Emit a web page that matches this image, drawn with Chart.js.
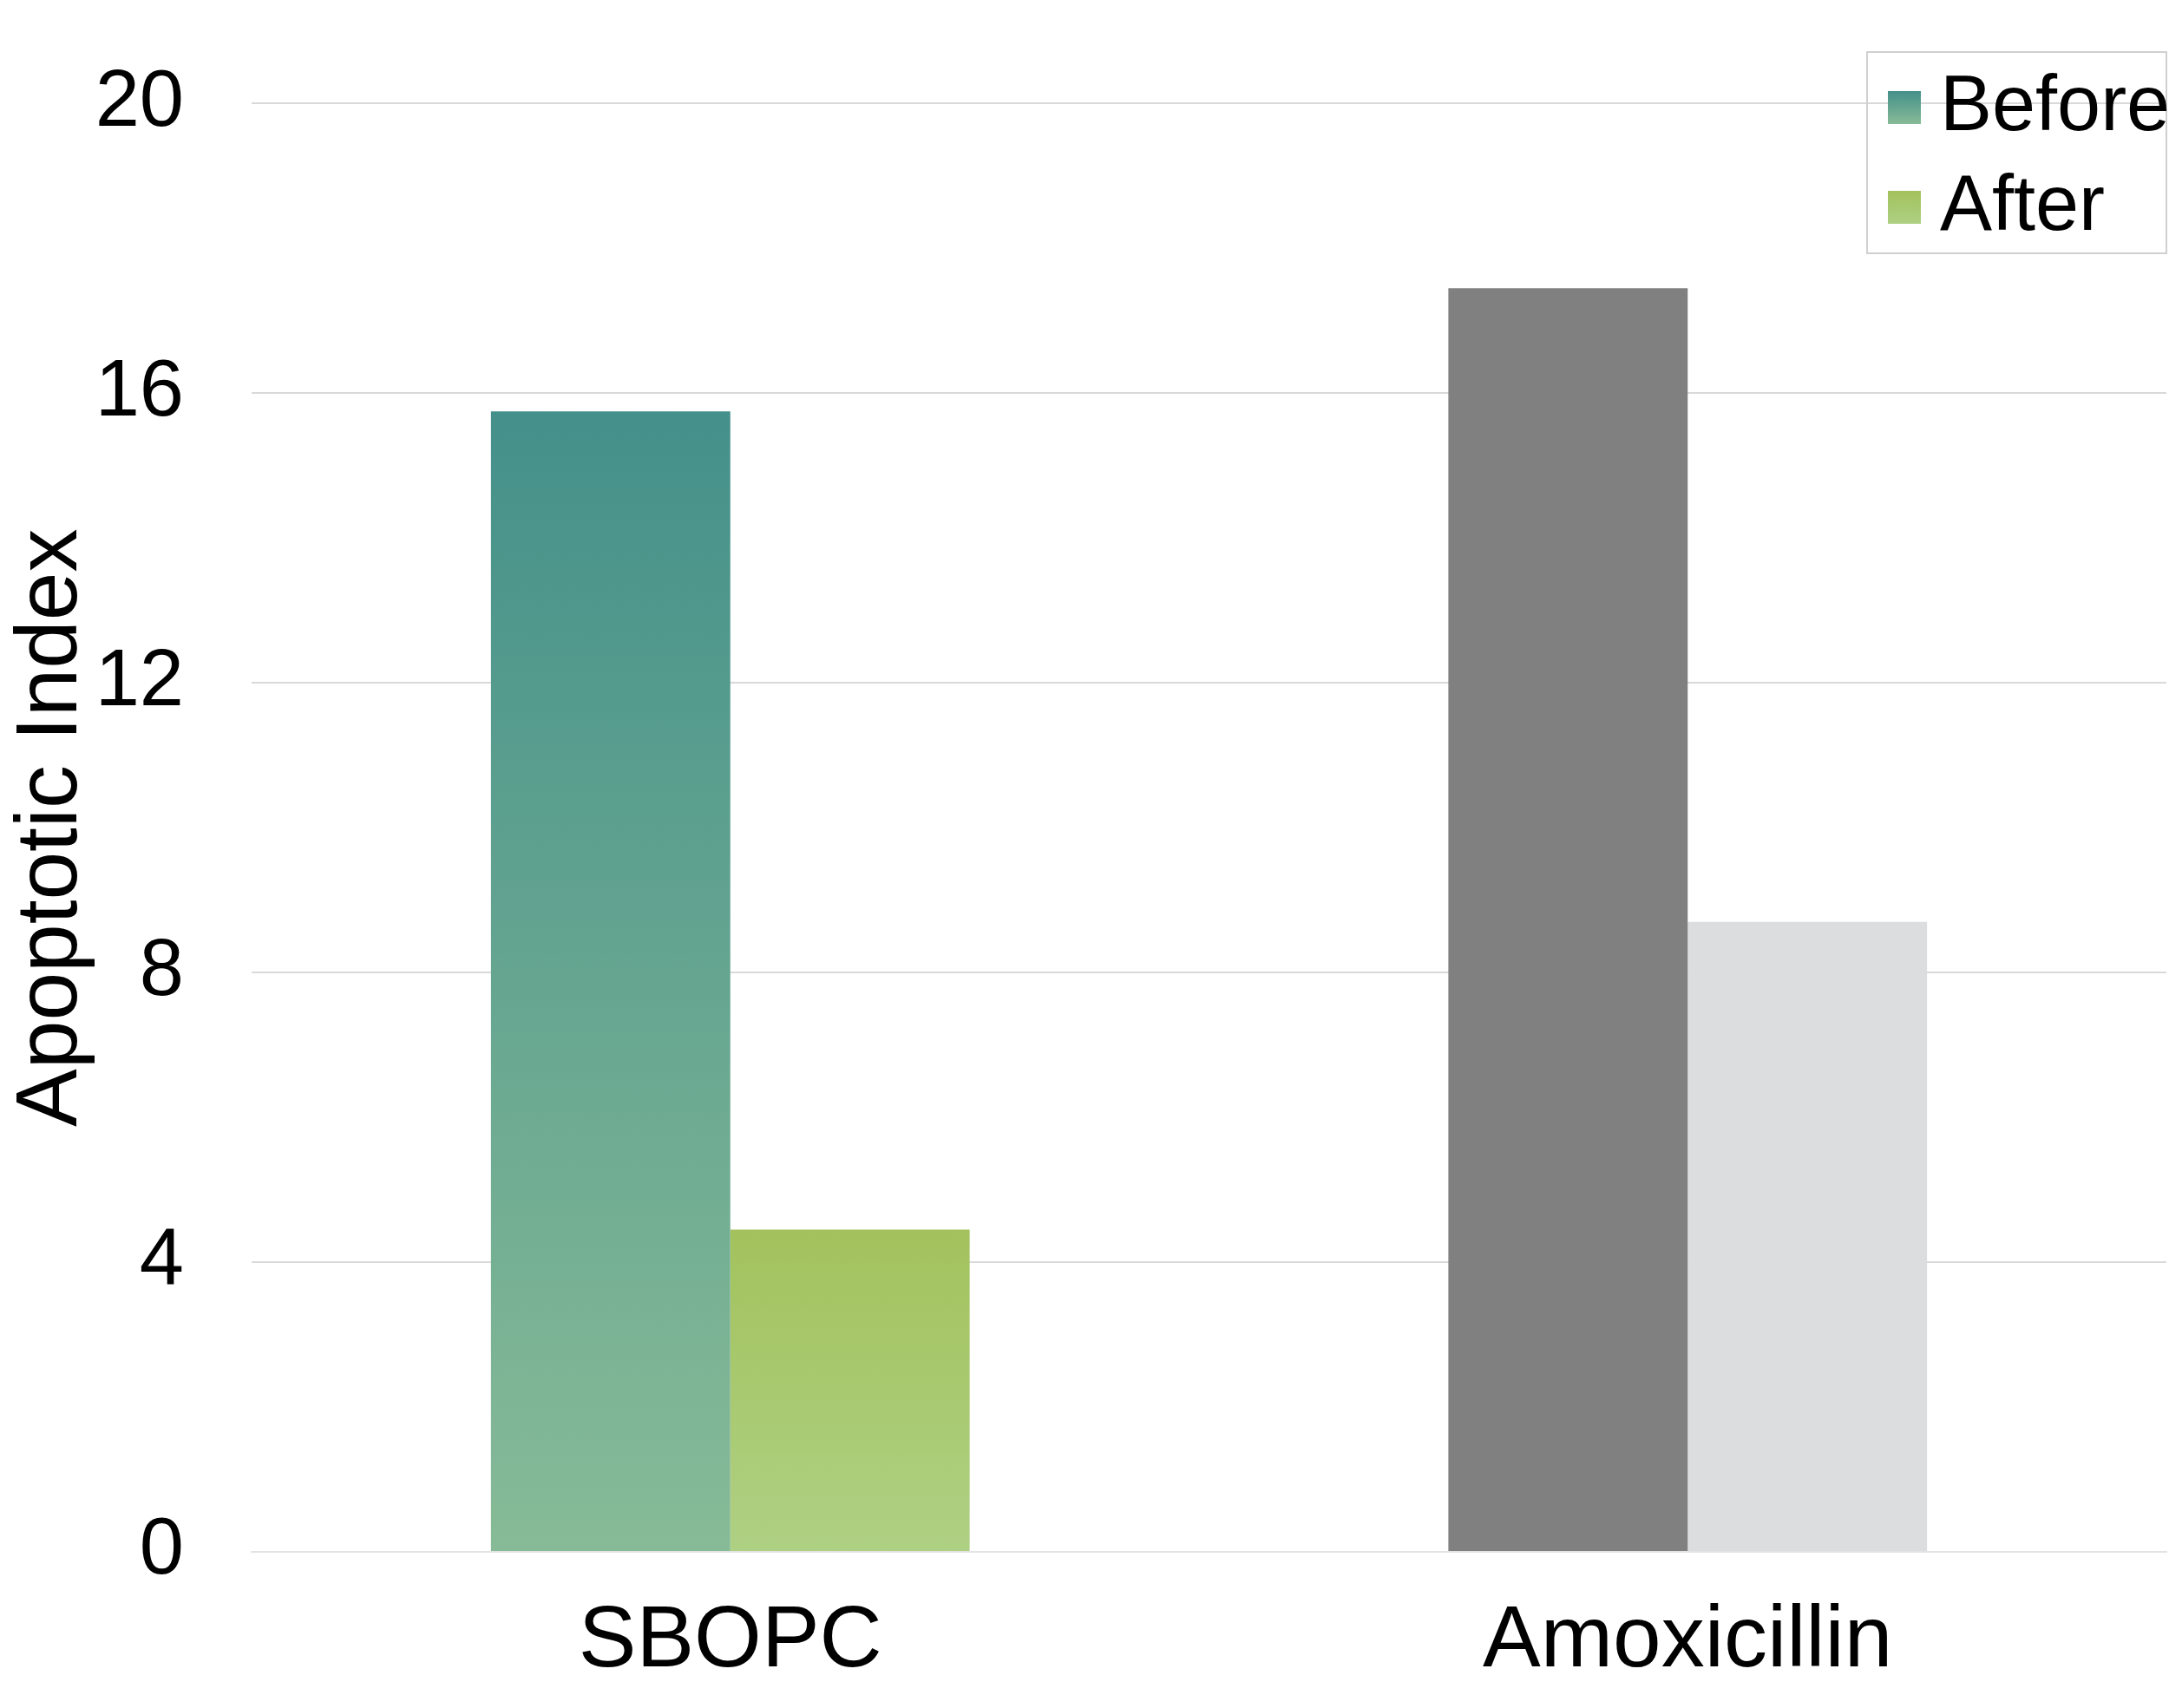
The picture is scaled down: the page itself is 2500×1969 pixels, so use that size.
<!DOCTYPE html>
<html>
<head>
<meta charset="utf-8">
<script src="https://cdn.jsdelivr.net/npm/chart.js@4"></script>
<style>body{margin:0;background:#fff}</style>
</head>
<body>
<canvas id="c" width="2500" height="1969"></canvas>
<script>
const categories = ['SBOPC', 'Amoxicillin'];
const beforeValues = [15.75, 17.45];
const afterValues = [4.45, 8.7];
const seriesNames = ['Before', 'After'];
const yTicks = [0, 4, 8, 12, 16, 20];

const FONT = '"Liberation Sans", Arial, sans-serif';

// gradient top->bottom for the SBOPC bars, flat colours for Amoxicillin
const fills = {
  Before: [['#44908a', '#87bb97'], ['#808080', '#808080']],
  After: [['#a3c25d', '#aed083'], ['#dcdddf', '#dcdddf']]
};
const barFill = (name) => (ctx) => {
  const chart = ctx.chart;
  if (!chart.chartArea) return fills[name][ctx.dataIndex][0];
  const y = chart.scales.y;
  const [top, bottom] = fills[name][ctx.dataIndex];
  const g = chart.ctx.createLinearGradient(0, y.getPixelForValue(ctx.raw), 0, y.getPixelForValue(0));
  g.addColorStop(0, top); g.addColorStop(1, bottom);
  return g;
};

const legendBox = {
  id: 'legendBox',
  afterDraw(chart) {
    const c = chart.ctx;
    c.save();
    c.strokeStyle = '#d0d0d0'; c.lineWidth = 2;
    c.strokeRect(2152, 60, 345, 232);
    const swatch = [['#44908a', '#87bb97'], ['#a3c25d', '#aed083']];
    const ys = [105, 220];
    seriesNames.forEach((n, i) => {
      const g = c.createLinearGradient(0, ys[i], 0, ys[i] + 38);
      g.addColorStop(0, swatch[i][0]); g.addColorStop(1, swatch[i][1]);
      c.fillStyle = g;
      c.fillRect(2176, ys[i], 38, 38);
      c.fillStyle = '#000';
      c.font = '90px ' + FONT;
      c.textBaseline = 'middle';
      c.fillText(n, 2236, ys[i] + 20);
    });
    c.restore();
  }
};

new Chart(document.getElementById('c'), {
  type: 'bar',
  data: {
    labels: categories,
    datasets: [
      { label: seriesNames[0], data: beforeValues, backgroundColor: barFill('Before') },
      { label: seriesNames[1], data: afterValues, backgroundColor: barFill('After') }
    ]
  },
  options: {
    responsive: false,
    devicePixelRatio: 1,
    animation: false,
    layout: { padding: { top: 0, right: 3, left: 0, bottom: 0 } },
    plugins: { legend: { display: false }, tooltip: { enabled: false } },
    datasets: { bar: { categoryPercentage: 0.5, barPercentage: 1 } },
    scales: {
      x: {
        grid: { display: false },
        border: { color: '#e3e3e3', width: 2 },
        ticks: { color: '#000', font: { family: FONT, size: 100 }, padding: 36 },
        afterFit(s) { s.height = 180; }
      },
      y: {
        min: 0, max: 20,
        afterBuildTicks(s) { s.ticks = yTicks.map(v => ({ value: v })); },
        grid: { color: '#d9d9d9', lineWidth: 2, drawTicks: false },
        border: { display: false },
        ticks: { color: '#000', font: { family: FONT, size: 92, lineHeight: 0.9 }, padding: 78 },
        title: { display: true, text: 'Apoptotic Index', color: '#000', font: { family: FONT, size: 100 }, padding: 0 },
        afterFit(s) { s.width = 290; }
      }
    }
  },
  plugins: [legendBox]
});
</script>
</body>
</html>
